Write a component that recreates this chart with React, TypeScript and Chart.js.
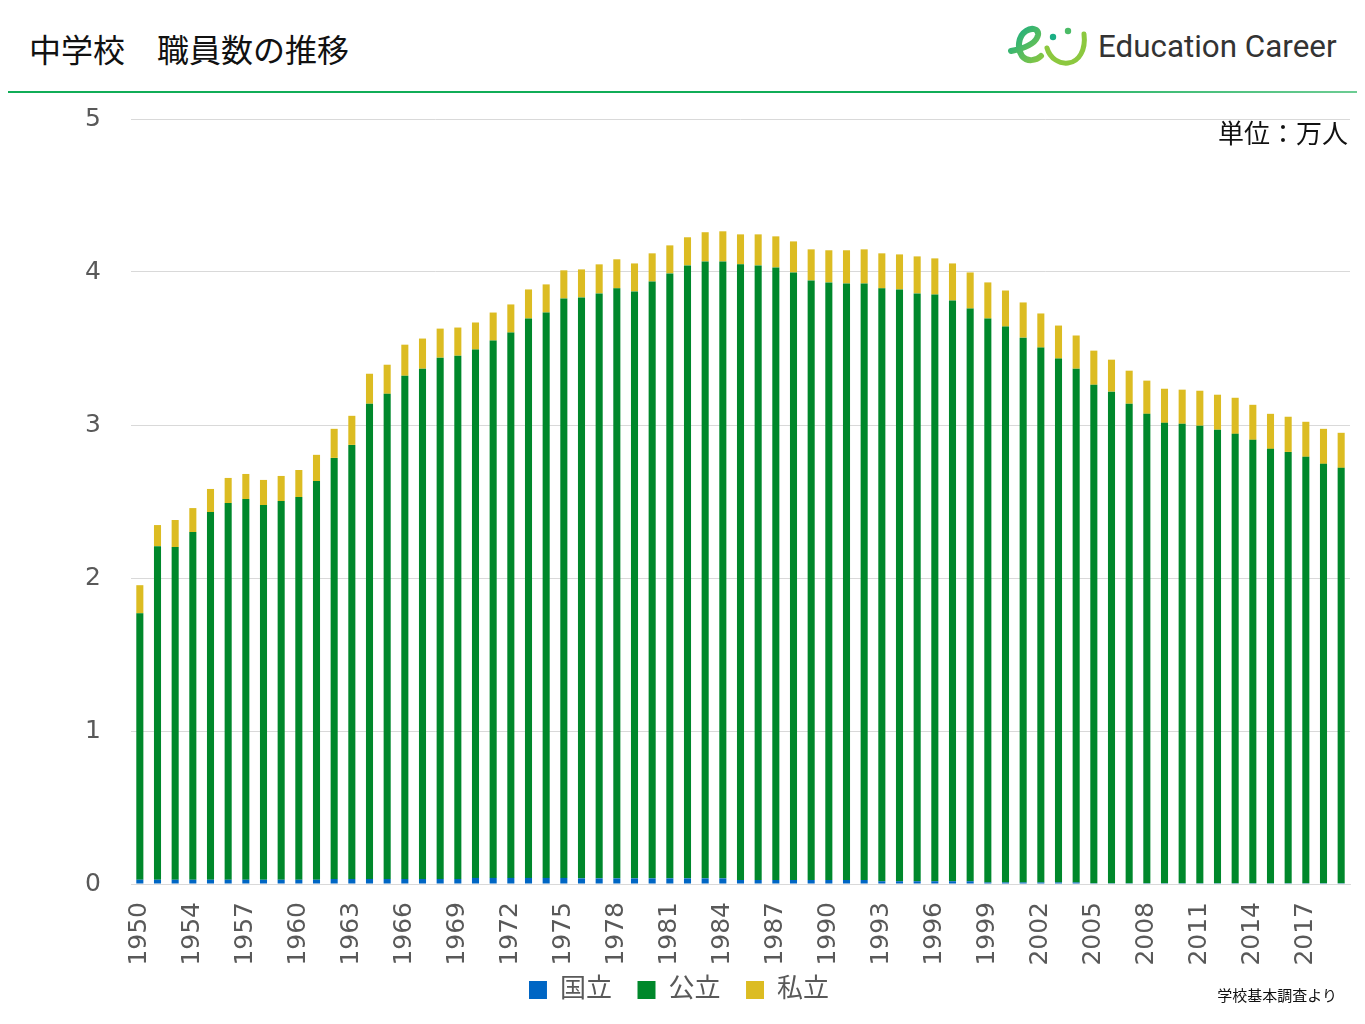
import { useEffect, useRef } from 'react';
import { Chart, registerables } from 'chart.js';

Chart.register(...registerables);

// 1951 is not in the source data
const years = [
  '1950', '1952', '1953', '1954', '1955', '1956', '1957', '1958', '1959', '1960',
  '1961', '1962', '1963', '1964', '1965', '1966', '1967', '1968', '1969', '1970',
  '1971', '1972', '1973', '1974', '1975', '1976', '1977', '1978', '1979', '1980',
  '1981', '1982', '1983', '1984', '1985', '1986', '1987', '1988', '1989', '1990',
  '1991', '1992', '1993', '1994', '1995', '1996', '1997', '1998', '1999', '2000',
  '2001', '2002', '2003', '2004', '2005', '2006', '2007', '2008', '2009', '2010',
  '2011', '2012', '2013', '2014', '2015', '2016', '2017', '2018', '2019',
];

// 国立 (万人)
const national = [
  0.028, 0.028, 0.028, 0.028, 0.028, 0.028, 0.028, 0.028, 0.028, 0.028,
  0.028, 0.033, 0.033, 0.033, 0.033, 0.033, 0.033, 0.033, 0.033, 0.04,
  0.04, 0.04, 0.04, 0.04, 0.04, 0.037, 0.037, 0.037, 0.037, 0.037,
  0.037, 0.037, 0.037, 0.037, 0.026, 0.026, 0.026, 0.026, 0.026, 0.026,
  0.026, 0.026, 0.018, 0.018, 0.018, 0.018, 0.018, 0.018, 0.01, 0.01,
  0.01, 0.01, 0.01, 0.01, 0.005, 0.005, 0.005, 0.005, 0.005, 0.005,
  0.005, 0.005, 0.005, 0.005, 0.005, 0.005, 0.005, 0.005, 0.005,
];

// 公立 (万人)
const publicSchools = [
  1.741, 2.18, 2.174, 2.272, 2.403, 2.462, 2.488, 2.449, 2.475, 2.501,
  2.606, 2.752, 2.837, 3.106, 3.171, 3.289, 3.335, 3.407, 3.42, 3.453,
  3.512, 3.564, 3.656, 3.695, 3.787, 3.797, 3.823, 3.856, 3.836, 3.901,
  3.954, 4.006, 4.032, 4.032, 4.024, 4.017, 4.004, 3.971, 3.919, 3.906,
  3.899, 3.899, 3.875, 3.868, 3.842, 3.835, 3.796, 3.743, 3.686, 3.633,
  3.561, 3.496, 3.424, 3.358, 3.258, 3.213, 3.134, 3.068, 3.009, 3.003,
  2.99, 2.964, 2.937, 2.898, 2.839, 2.819, 2.787, 2.741, 2.715,
];

// 私立 (万人)
const privateSchools = [
  0.184, 0.138, 0.177, 0.157, 0.151, 0.164, 0.164, 0.164, 0.164, 0.177,
  0.171, 0.19, 0.19, 0.196, 0.19, 0.203, 0.197, 0.19, 0.184, 0.177,
  0.183, 0.184, 0.19, 0.184, 0.184, 0.183, 0.19, 0.19, 0.183, 0.184,
  0.183, 0.184, 0.191, 0.197, 0.196, 0.203, 0.203, 0.203, 0.203, 0.21,
  0.217, 0.223, 0.229, 0.229, 0.242, 0.236, 0.242, 0.236, 0.236, 0.236,
  0.23, 0.223, 0.216, 0.217, 0.223, 0.209, 0.216, 0.217, 0.223, 0.223,
  0.229, 0.229, 0.236, 0.229, 0.229, 0.23, 0.229, 0.229, 0.229,
];

const tickFont = { family: '"DejaVu Sans", "Noto Sans CJK JP", sans-serif', size: 25 };
const legendFont = { family: '"DejaVu Sans", "Noto Sans CJK JP", sans-serif', size: 26 };

function StaffChart() {
  const canvasRef = useRef<HTMLCanvasElement | null>(null);

  useEffect(() => {
    if (!canvasRef.current) return;

    const chart = new Chart(canvasRef.current, {
      type: 'bar',
      data: {
        labels: years,
        datasets: [
          { label: '国立', data: national, backgroundColor: '#0066c4' },
          { label: '公立', data: publicSchools, backgroundColor: '#00882b' },
          { label: '私立', data: privateSchools, backgroundColor: '#dcbc22' },
        ],
      },
      options: {
        responsive: false,
        animation: false,
        barPercentage: 0.5,
        categoryPercentage: 0.8,
        layout: { padding: { left: 0, right: 7, top: 23, bottom: 0 } },
        plugins: {
          legend: {
            position: 'bottom',
            labels: {
              boxWidth: 18,
              boxHeight: 18,
              padding: 9,
              color: '#595959',
              font: legendFont,
              // extra gap between items without making the legend taller
              generateLabels: (c) => {
                const items = Chart.defaults.plugins.legend.labels.generateLabels(c);
                items.forEach((it, i) => {
                  if (i < items.length - 1) it.text = it.text + '  ';
                });
                return items;
              },
            },
          },
          tooltip: { enabled: false },
        },
        scales: {
          x: {
            stacked: true,
            grid: { display: false, drawTicks: false },
            border: { color: '#d9d9d9' },
            afterFit: (scale: any) => {
              scale.height = 84;
              scale.paddingLeft = 0;
              scale.paddingRight = 0;
            },
            ticks: {
              autoSkip: false,
              minRotation: 90,
              maxRotation: 90,
              padding: 18,
              color: '#595959',
              font: tickFont,
              callback: (_v, i) => (i % 3 === 0 ? years[i] : ''),
            },
          },
          y: {
            stacked: true,
            min: 0,
            max: 5,
            grid: { color: '#d9d9d9', drawTicks: false },
            border: { display: false },
            afterFit: (scale: any) => {
              scale.width = 123;
              scale.paddingTop = 0;
              scale.paddingBottom = 0;
            },
            ticks: {
              stepSize: 1,
              padding: 30,
              color: '#595959',
              font: tickFont,
            },
          },
        },
      },
    });

    return () => {
      chart.destroy();
    };
  }, []);

  return <canvas ref={canvasRef} width={1349} height={917} style={{ position: 'absolute', left: 0, top: 88 }} />;
}

function Logo() {
  return (
    <svg width={90} height={45} style={{ position: 'absolute', left: 1000, top: 16 }}>
      <defs>
        <linearGradient id="eg" x1="0" y1="0" x2="1" y2="1">
          <stop offset="0" stopColor="#14ad86" />
          <stop offset="1" stopColor="#86c743" />
        </linearGradient>
      </defs>
      <path
        d="M3,27 C13,25 28,21 30,11 C31,5 24,3 18,7 C10,12 9,25 14,32 C19,38 28,37 33,32"
        fill="none"
        stroke="url(#eg)"
        strokeWidth={6}
        strokeLinecap="round"
      />
      <circle cx={45} cy={13} r={3.2} fill="#1aae84" />
      <circle cx={60} cy={7} r={3.2} fill="#4bbb66" />
      <path
        d="M39,24 C42,35 52,40 60,39 C71,38 78,26 76,10"
        fill="none"
        stroke="#8cc83f"
        strokeWidth={5}
        strokeLinecap="round"
      />
    </svg>
  );
}

export default function App() {
  return (
    <div style={{ position: 'relative', width: 1349, height: 1008, overflow: 'hidden' }}>
      <div
        style={{
          position: 'absolute',
          left: 21,
          top: 24,
          fontSize: 32,
          lineHeight: '32px',
          color: '#111',
          fontFamily: '"Noto Sans CJK JP", sans-serif',
          whiteSpace: 'pre',
        }}
      >
        中学校　職員数の推移
      </div>
      <Logo />
      <div
        style={{
          position: 'absolute',
          left: 1090,
          top: 21,
          fontSize: 32,
          lineHeight: '34px',
          color: '#333',
          fontFamily: 'Roboto, sans-serif',
          whiteSpace: 'nowrap',
          transform: 'scaleX(0.98)',
          transformOrigin: 'left center',
        }}
      >
        Education Career
      </div>
      <div
        style={{
          position: 'absolute',
          left: 0,
          top: 83,
          width: 1349,
          height: 2,
          background: 'linear-gradient(to right, #10ad57 0%, #10ad57 70%, #6ccc93 100%)',
        }}
      />
      <StaffChart />
      <div
        style={{
          position: 'absolute',
          right: 9,
          top: 111,
          fontSize: 26,
          lineHeight: '26px',
          color: '#111',
          fontFamily: '"Noto Sans CJK JP", sans-serif',
        }}
      >
        単位：万人
      </div>
      <div
        style={{
          position: 'absolute',
          right: 20,
          top: 979,
          fontSize: 15,
          lineHeight: '16px',
          color: '#111',
          fontFamily: '"Noto Sans CJK JP", sans-serif',
        }}
      >
        学校基本調査より
      </div>
    </div>
  );
}
